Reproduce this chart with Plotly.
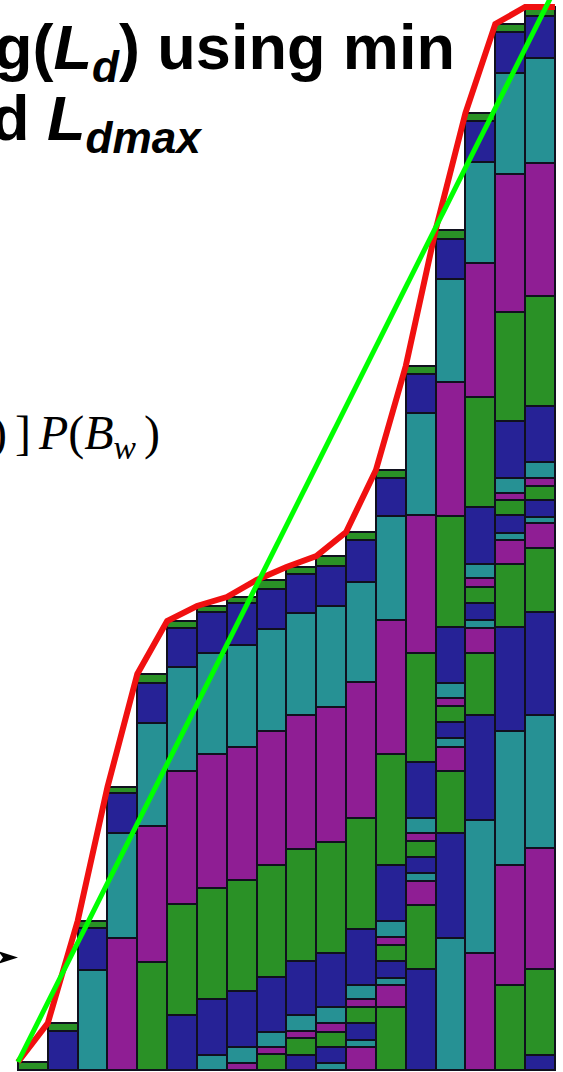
import plotly.graph_objects as go

# ---- data: stacked layer heights of each histogram bar, bottom -> top ----
bars = list(range(1, 19))
bar_01 = [8]
bar_02 = [39, 8]
bar_03 = [100, 42, 7]
bar_04 = [132, 105, 40, 6]
bar_05 = [108, 136, 103, 40, 9]
bar_06 = [55, 111, 133, 104, 39, 7]
bar_07 = [15, 56, 111, 134, 101, 41, 6]
bar_08 = [7, 16, 56, 111, 133, 102, 42, 6]
bar_09 = [16, 7, 15, 55, 112, 134, 102, 40, 9]
bar_10 = [15, 17, 7, 16, 54, 112, 134, 102, 39, 7]
bar_11 = [7, 16, 15, 9, 16, 54, 111, 135, 101, 40, 10]
bar_12 = [23, 7, 17, 16, 8, 14, 56, 111, 136, 100, 42, 8]
bar_13 = [63, 22, 7, 17, 16, 8, 16, 56, 111, 134, 104, 38, 8]
bar_14 = [101, 64, 24, 8, 16, 16, 8, 15, 56, 109, 138, 102, 39, 8]
bar_15 = [132, 105, 62, 24, 9, 16, 16, 8, 15, 56, 111, 134, 103, 40, 9]
bar_16 = [117, 133, 105, 62, 25, 8, 17, 16, 9, 14, 57, 110, 134, 101, 41, 8]
bar_17 = [85, 120, 134, 104, 63, 24, 7, 18, 15, 7, 15, 57, 109, 138, 101, 41, 8]
bar_18 = [15, 86, 121, 133, 103, 64, 25, 6, 17, 14, 8, 16, 56, 110, 133, 105, 42, 9]
segments = [bar_01, bar_02, bar_03, bar_04, bar_05, bar_06, bar_07, bar_08, bar_09,
            bar_10, bar_11, bar_12, bar_13, bar_14, bar_15, bar_16, bar_17, bar_18]

# ideal (linear) cumulative target: start and end values
ideal_x = [0.5, 18.5]
ideal_y = [8, 1081]

# layer colours, cycling from the top of each bar downward
layer_colors = ["#2a9126", "#262296", "#269194", "#8f1e94"]

totals = [sum(s) for s in segments]

fig = go.Figure()
max_n = max(len(s) for s in segments)
for j in range(max_n):
    xs, ys, cs = [], [], []
    for i, seg in zip(bars, segments):
        if j < len(seg):
            xs.append(i)
            ys.append(seg[j])
            cs.append(layer_colors[(len(seg) - 1 - j) % 4])
    fig.add_trace(go.Bar(x=xs, y=ys, marker=dict(color=cs, line=dict(color="#10101e", width=2)),
                         showlegend=False, hoverinfo="skip"))

# red cumulative curve along the bar tops (left edges) and across the last bar
red_x = [b - 0.5 for b in bars] + [bars[-1] + 0.5]
red_y = totals + [totals[-1]]
fig.add_trace(go.Scatter(x=red_x, y=red_y, mode="lines",
                         line=dict(color="#f01010", width=6), showlegend=False, hoverinfo="skip"))
fig.add_trace(go.Scatter(x=ideal_x, y=ideal_y, mode="lines",
                         line=dict(color="#00ff00", width=5), showlegend=False, hoverinfo="skip"))

W, H = 563, 1072
px = lambda v: v / W
py = lambda v: 1 - v / H

SP = "\u2006"
fig.update_layout(
    width=W, height=H, margin=dict(l=0, r=0, t=0, b=0),
    barmode="stack", bargap=0,
    plot_bgcolor="white", paper_bgcolor="white",
    xaxis=dict(range=[-0.1034, 18.770], visible=False, fixedrange=True),
    yaxis=dict(range=[-2, 1070], visible=False, fixedrange=True),
    annotations=[
        dict(text="<b>g(<i>L</i><sub><i>d</i></sub>) using min</b>", xref="paper", yref="paper",
             x=px(-8), y=py(10), xanchor="left", yanchor="top", showarrow=False,
             font=dict(family="Liberation Sans", size=63, color="black")),
        dict(text="<b>d <i>L</i><sub><i>dmax</i></sub></b>", xref="paper", yref="paper",
             x=px(-11), y=py(81), xanchor="left", yanchor="top", showarrow=False,
             font=dict(family="Liberation Sans", size=63, color="black")),
        dict(text=")" + SP + "]" + SP + "<i>P</i>(<i>B</i><sub><i>w</i></sub>" + SP + ")",
             xref="paper", yref="paper",
             x=px(162), y=py(404), xanchor="right", yanchor="top", showarrow=False,
             font=dict(family="Liberation Serif", size=48, color="black")),
    ],
    shapes=[
        dict(type="path", xref="paper", yref="paper", fillcolor="black", line=dict(width=0),
             path=f"M {px(-2)},{py(951)} L {px(18)},{py(957.5)} L {px(-2)},{py(964)} L {px(3)},{py(957.5)} Z"),
    ],
)

fig.write_html("out.html", config={"displayModeBar": False},
               post_script="document.body.style.margin='0';document.body.style.overflow='hidden';")
